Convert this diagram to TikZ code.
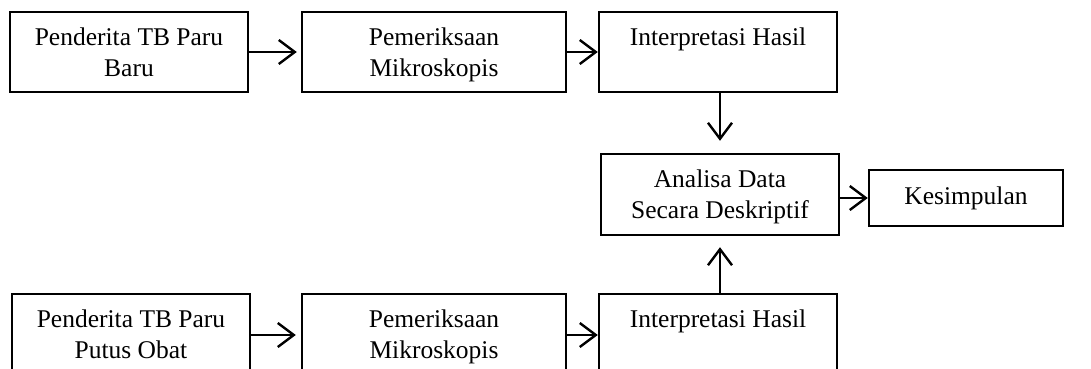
\documentclass[tikz,border=0pt]{standalone}
\usepackage{fontspec}
\setmainfont{Liberation Serif}
\usetikzlibrary{arrows.meta}
\begin{document}
\begin{tikzpicture}[x=1pt,y=-1pt,
  box/.style={draw,line width=2.4pt,align=center,inner sep=0pt,text depth=0pt,
    font=\fontsize{25.5}{31}\selectfont,minimum width=238pt,minimum height=80pt},
  arr/.style={line width=2.4pt,-{Straight Barb[length=16pt,width=24pt,line width=2.4pt]}}]
\path[use as bounding box,clip] (0,0) rectangle (1091,369);
% top row
\node[box] (b1) at (129,52) {Penderita TB Paru\\Baru};
\node[box,minimum width=264pt] (b2) at (434,52) {Pemeriksaan\\Mikroskopis};
\node[box] (b3) at (718,52) {Interpretasi Hasil\\\strut};
% middle
\node[box,minimum height=81pt] (an) at (720,194.5) {Analisa Data\\Secara Deskriptif};
\node[box,minimum width=194pt,minimum height=56pt,text depth=5.5pt] (ks) at (966,198) {Kesimpulan};
% bottom row
\node[box] (b4) at (131,334) {Penderita TB Paru\\Putus Obat};
\node[box,minimum width=264pt] (b5) at (434,334) {Pemeriksaan\\Mikroskopis};
\node[box] (b6) at (718,334) {Interpretasi Hasil\\\strut};
% connectors
\draw[arr,shorten >=4pt] (b1) -- (b2);
\draw[arr] (b2) -- (b3);
\draw[arr,shorten >=12pt] (b3.south -| an.north) -- (an.north);
\draw[arr,shorten >=11pt] (b6.north -| an.south) -- (an.south);
\draw[arr] (an.east |- ks.west) -- (ks.west);
\draw[arr,shorten >=5pt] (b4.east |- 0,335) -- (b5.west |- 0,335);
\draw[arr] (b5.east |- 0,335) -- (b6.west |- 0,335);
\end{tikzpicture}
\end{document}
